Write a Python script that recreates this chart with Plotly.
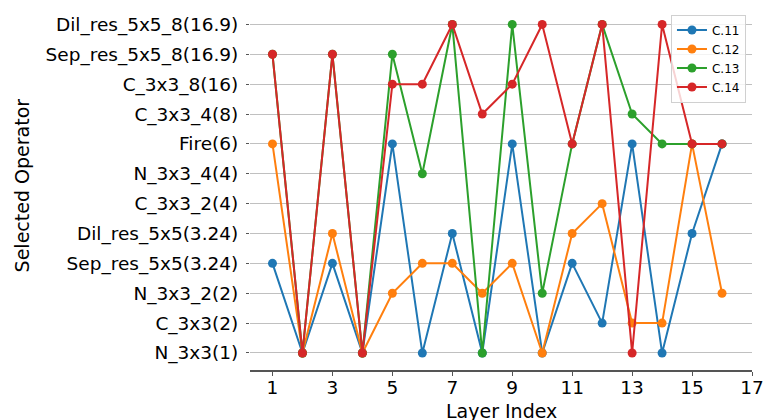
import plotly.graph_objects as go

# Operator choices, ordered bottom to top on the y axis
operators = [
    "N_3x3(1)", "C_3x3(2)", "N_3x3_2(2)", "Sep_res_5x5(3.24)",
    "Dil_res_5x5(3.24)", "C_3x3_2(4)", "N_3x3_4(4)", "Fire(6)",
    "C_3x3_4(8)", "C_3x3_8(16)", "Sep_res_5x5_8(16.9)", "Dil_res_5x5_8(16.9)",
]
layers = list(range(1, 17))

# Selected operator index per layer for each configuration
c11 = [3, 0, 3, 0, 7, 0, 4, 0, 7, 0, 3, 1, 7, 0, 4, 7]
c12 = [7, 0, 4, 0, 2, 3, 3, 2, 3, 0, 4, 5, 1, 1, 7, 2]
c13 = [10, 0, 10, 0, 10, 6, 11, 0, 11, 2, 7, 11, 8, 7, 7, 7]
c14 = [10, 0, 10, 0, 9, 9, 11, 8, 9, 11, 7, 11, 0, 11, 7, 7]

series = [("C.11", c11, "#1f77b4"), ("C.12", c12, "#ff7f0e"),
          ("C.13", c13, "#2ca02c"), ("C.14", c14, "#d62728")]

fig = go.Figure()
for name, vals, color in series:
    fig.add_trace(go.Scatter(
        x=layers, y=vals, name=name, mode="lines+markers",
        line=dict(color=color, width=2),
        marker=dict(color=color, size=9),
        cliponaxis=False,
    ))

font = "DejaVu Sans"
fig.update_layout(
    width=764, height=420,
    margin=dict(l=250, r=12, t=8, b=50),
    plot_bgcolor="white", paper_bgcolor="white",
    font=dict(family=font, size=19, color="black"),
    showlegend=True,
    legend=dict(
        x=0.988, y=0.982, xanchor="right", yanchor="top",
        bgcolor="rgba(255,255,255,0.8)", bordercolor="#d0d0d0", borderwidth=1,
        font=dict(family=font, size=12), tracegroupgap=0,
    ),
)
fig.update_xaxes(
    range=[0.25, 17.0001], tickvals=list(range(1, 18, 2)),
    tickfont=dict(size=18.5),
    showline=True, linecolor="#555555", linewidth=1.5,
    ticks="outside", ticklen=4, tickcolor="#555555",
    showgrid=False, zeroline=False, automargin=False,
    ticklabeloverflow="allow", ticklabelstandoff=-4,
)
fig.update_yaxes(
    range=[-0.57, 11.55], tickvals=list(range(len(operators))), ticktext=operators,
    tickfont=dict(size=18.5),
    showline=False, ticks="outside", ticklen=3, tickcolor="#555555",
    showgrid=True, gridcolor="#c0c0c0", gridwidth=1, zeroline=False,
    ticklabelstandoff=4, automargin=False,
)

# Axis titles
fig.add_annotation(text="Layer Index", xref="paper", yref="paper", x=0.5, y=0,
                   yshift=-28, xanchor="center", yanchor="top", showarrow=False,
                   font=dict(family=font, size=19))
fig.add_annotation(text="Selected Operator", xref="paper", yref="paper", x=0,
                   y=0.51, xshift=-228, xanchor="center", yanchor="middle",
                   textangle=-90, showarrow=False, font=dict(family=font, size=19))

fig.write_html("out.html")
